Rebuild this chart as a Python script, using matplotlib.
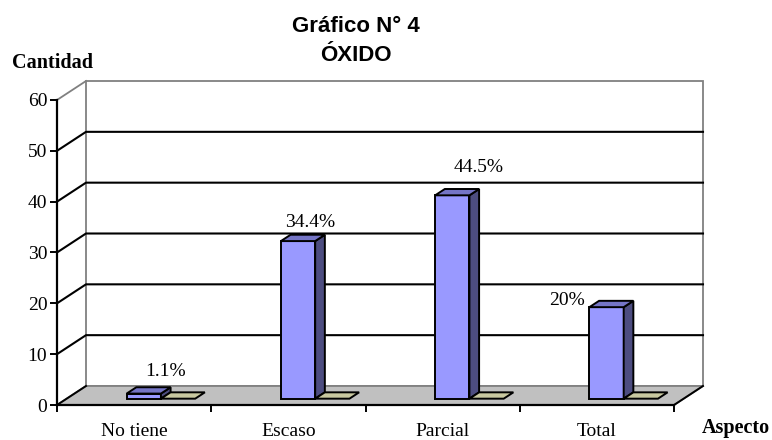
import matplotlib
matplotlib.use("Agg")
import matplotlib.pyplot as plt
from matplotlib.patches import Polygon

# Data
categories = ["No tiene", "Escaso", "Parcial", "Total"]
cantidad = [1, 31, 40, 18]
serie_vacia = [0, 0, 0, 0]          # second (flat) series shown in tan
etiquetas = ["1.1%", "34.4%", "44.5%", "20%"]
y_ticks = [0, 10, 20, 30, 40, 50, 60]

# label offsets (pixels) from the front-top centre of each blue bar
label_offsets = [(22, 22), (12, 19), (26, 28), (-40, 7)]

SERIF = "Liberation Serif"
SANS = "Liberation Sans"

W, H = 772, 440
fig = plt.figure(figsize=(W / 100, H / 100), dpi=100)
ax = fig.add_axes([57 / W, 35 / H, 617 / W, 305 / H])
ax.patch.set_visible(False)

n_cat = len(categories)
ymax = y_ticks[-1]
ax.set_xlim(0, n_cat)
ax.set_ylim(0, ymax)

# oblique depth vector (full wall depth) in data units
DX = 29 / 154.25
DY = 19 / (305 / ymax)


def proj(x, y, d):
    return (x + d * DX, y + d * DY)


def face(pts, fc, ec="black", lw=1.4, z=3):
    ax.add_patch(Polygon([proj(*p) for p in pts], closed=True, facecolor=fc,
                         edgecolor=ec, linewidth=lw, zorder=z, clip_on=False,
                         joinstyle="miter"))


# back wall
face([(0, 0, 1), (n_cat, 0, 1), (n_cat, ymax, 1), (0, ymax, 1)], "white",
     ec="#808080", lw=1.3, z=0)
# side wall top edge
ax.plot(*zip(proj(0, ymax, 0), proj(0, ymax, 1)), color="#808080", lw=1.3,
        zorder=1, clip_on=False)
# floor
face([(0, 0, 0), (n_cat, 0, 0), (n_cat, 0, 1), (0, 0, 1)], "#c0c0c0",
     ec="#808080", lw=1.3, z=1)
for x in (0, n_cat):
    ax.plot(*zip(proj(x, 0, 0), proj(x, 0, 1)), color="black", lw=1.4,
            zorder=2, clip_on=False)

# gridlines on side and back walls
for v in y_ticks[1:-1]:
    pts = [proj(0, v, 0), proj(0, v, 1), proj(n_cat, v, 1)]
    ax.plot([p[0] for p in pts], [p[1] for p in pts], color="black", lw=1.5,
            zorder=1, clip_on=False)

# bars: 3 series slots (first empty), gap width 150%
w = 1 / 4.5
d0, d1 = 1 / 3, 2 / 3
series = [(cantidad, 1, "#9999ff", "#7575c6", "#4d4d80"),
          (serie_vacia, 2, "#c8c8a0", "#c8c8a0", "#8c8c70")]
for i in range(n_cat):
    for vals, slot, c_front, c_top, c_side in series:
        h = vals[i]
        l = i + 0.5 - 1.5 * w + slot * w
        r = l + w
        if h > 0:
            face([(l, 0, d0), (r, 0, d0), (r, h, d0), (l, h, d0)], c_front, z=4)
            face([(r, 0, d0), (r, 0, d1), (r, h, d1), (r, h, d0)], c_side, z=4)
        face([(l, h, d0), (r, h, d0), (r, h, d1), (l, h, d1)], c_top, z=4)

# value labels
for i in range(n_cat):
    l = i + 0.5 - 0.5 * w
    ax.annotate(etiquetas[i], proj(l + 0.5 * w, cantidad[i], d0),
                xytext=label_offsets[i], textcoords="offset pixels",
                ha="center", va="center", fontsize=14, family=SERIF, zorder=6)

# axes
for s in ("top", "right"):
    ax.spines[s].set_visible(False)
for s in ("left", "bottom"):
    ax.spines[s].set_color("black")
    ax.spines[s].set_linewidth(1.6)
    ax.spines[s].set_zorder(5)

ax.set_yticks(y_ticks)
ax.set_yticklabels([str(v) for v in y_ticks], fontsize=14, family=SERIF)
ax.tick_params(axis="y", direction="out", length=5, width=1.4, pad=2)

ax.set_xticks([i + 0.5 for i in range(n_cat)])
ax.set_xticklabels(categories, fontsize=14, family=SERIF)
ax.set_xticks(range(n_cat + 1), minor=True)
ax.tick_params(axis="x", which="major", length=0, pad=13)
ax.tick_params(axis="x", which="minor", direction="out", length=5, width=1.4)

# titles
fig.text(356 / W, 1 - 32 / H, "Gráfico N° 4", ha="center", va="baseline",
         fontsize=16, fontweight="bold", family=SANS)
fig.text(356 / W, 1 - 61 / H, "ÓXIDO", ha="center", va="baseline",
         fontsize=16, fontweight="bold", family=SANS)
fig.text(12 / W, 1 - 68 / H, "Cantidad", ha="left", va="baseline",
         fontsize=14.5, fontweight="bold", family=SERIF)
fig.text(770 / W, 1 - 433 / H, "Aspecto", ha="right", va="baseline",
         fontsize=14.5, fontweight="bold", family=SERIF)

fig.savefig("out.png", dpi=100)
